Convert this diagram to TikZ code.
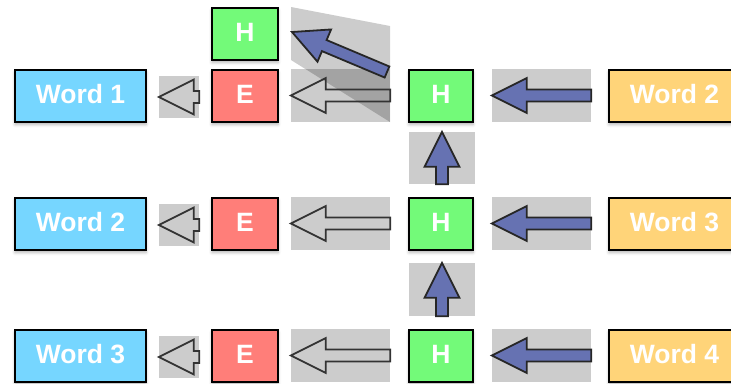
\documentclass[tikz,border=0pt]{standalone}
\usepackage{fontspec}
\setmainfont{Liberation Sans}
\usetikzlibrary{calc,shadows.blur}
\definecolor{sky}{HTML}{76D6FF}
\definecolor{salmon}{HTML}{FF7E79}
\definecolor{flora}{HTML}{73FA79}
\definecolor{cantaloupe}{HTML}{FFD479}
\definecolor{arrowblue}{HTML}{6672B2}
\tikzset{
  box/.style={draw=black,line width=2.2pt,minimum height=52pt,inner sep=0pt,
    text=white,font=\fontsize{26.5}{26.5}\selectfont\bfseries,text depth=3.5pt,
    blur shadow={shadow xshift=0pt,shadow yshift=-2.5pt,shadow blur radius=3pt,shadow opacity=30}},
  wordbox/.style={box,minimum width=131pt},
  ebox/.style={box,fill=salmon,minimum width=66pt},
  hbox/.style={box,fill=flora,minimum width=64pt},
  bgbox/.style={fill=black,fill opacity=0.2,inner sep=0pt},
  hollowarrow/.style={draw=black!80,line width=1.8pt},
  bluearrow/.style={draw=black!85,fill=arrowblue,line width=1.8pt},
  pics/blk/.style={code={
    \draw[pic actions] (0,-6) -- ({#1-35},-6) -- ({#1-35},-17.5) -- (#1,0)
      -- ({#1-35},17.5) -- ({#1-35},6) -- (0,6) -- cycle;
  }}
}
\newcommand\blockarrow[3]{%
  \path let \p1=($(#3)-(#2)$), \n1={atan2(\y1,\x1)}, \n2={veclen(\x1,\y1)} in
    (#2) pic[rotate=\n1,#1] {blk=\n2};}
\begin{document}
\begin{tikzpicture}[x=1pt,y=-1pt]
\useasboundingbox (0,0) rectangle (731,383);
\clip (0,0) rectangle (731,383);
% grey backgrounds
\foreach \r [count=\i] in {96,224,356} {
  \node[bgbox,minimum width=40pt,minimum height=42pt] (s\i) at (179,\r+1) {};
  \node[bgbox,minimum width=99pt,minimum height=53pt] (g\i) at (340.5,\r-0.5) {};
  \node[bgbox,minimum width=99pt,minimum height=53pt] (b\i) at (541.5,\r-0.5) {};
}
\node[bgbox,minimum width=66pt,minimum height=52pt] (v1) at (442,158) {};
\node[bgbox,minimum width=66pt,minimum height=53pt] (v2) at (442,289.5) {};
\fill[black,fill opacity=0.2] (291,7) -- (390,26) -- (390,122) -- (291,60) -- cycle;
\coordinate (dtail) at (387,72);
\coordinate (dtip) at (292,32);
% arrows
\foreach \i in {1,2,3} {
  \blockarrow{hollowarrow}{s\i.east}{s\i.west}
  \blockarrow{hollowarrow}{g\i.east}{g\i.west}
  \blockarrow{bluearrow}{b\i.east}{b\i.west}
}
\blockarrow{bluearrow}{v1.south}{v1.north}
\blockarrow{bluearrow}{v2.south}{v2.north}
\blockarrow{bluearrow}{dtail}{dtip}
% boxes
\foreach \r/\a/\b [count=\i] in {96/1/2,224/2/3,356/3/4} {
  \node[wordbox,fill=sky] (wl\i) at (80.5,\r) {Word \a};
  \node[ebox] (e\i) at (245,\r) {E};
  \node[hbox] (h\i) at (441,\r) {H};
  \node[wordbox,fill=cantaloupe] (wr\i) at (674.5,\r) {Word \b};
}
\node[hbox,minimum width=66pt] (h0) at (245,34) {H};
\end{tikzpicture}
\end{document}
